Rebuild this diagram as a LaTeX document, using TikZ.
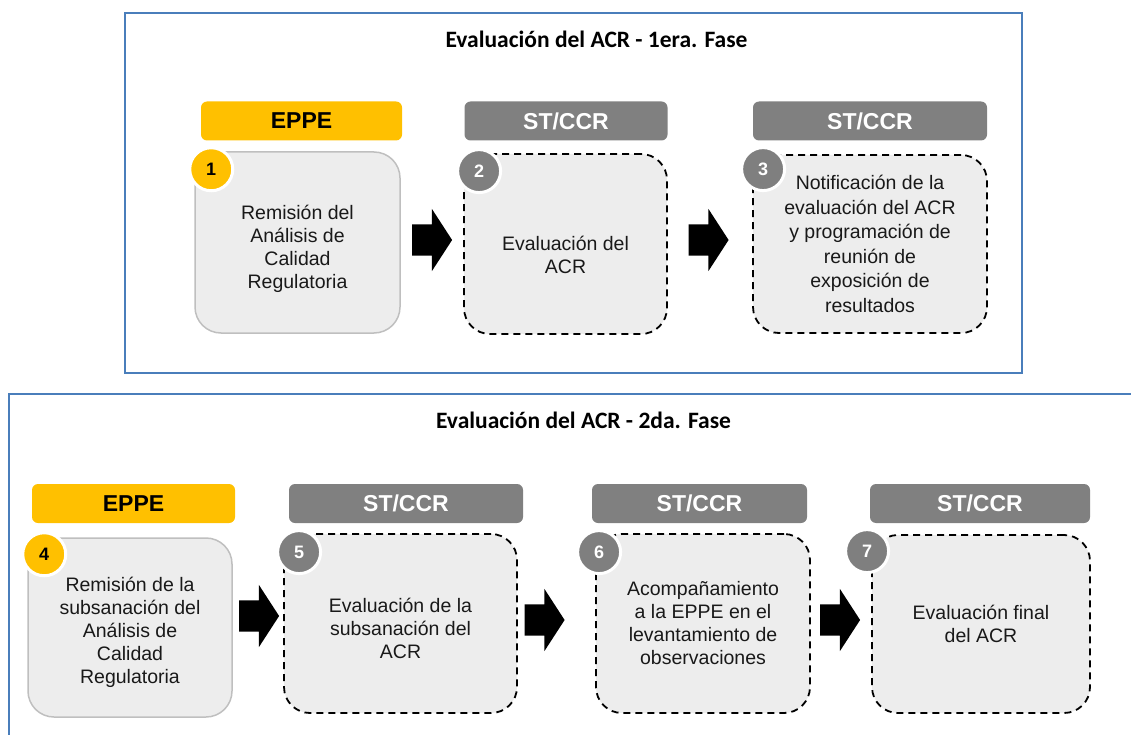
\documentclass[tikz,border=0pt]{standalone}
\usepackage{fontspec}
\setmainfont{Liberation Sans}
\newfontfamily\titlefont{Carlito}
\usetikzlibrary{shapes.arrows,calc}

\definecolor{eppeyellow}{HTML}{FFC000}
\definecolor{stgray}{HTML}{808080}
\definecolor{numgray}{HTML}{7F7F7F}
\definecolor{cardfill}{HTML}{EDEDED}
\definecolor{cardline}{HTML}{BFBFBF}
\definecolor{frameblue}{HTML}{4A7EBB}

% strut that pushes a card's text a little down
\newcommand{\cardpad}[1]{\rule{0pt}{#1}}

\tikzset{
  hdbox/.style={rectangle, rounded corners=6pt, minimum height=39pt, inner sep=0pt,
    font=\bfseries\fontsize{23}{26}\selectfont},
  eppehd/.style={hdbox, fill=eppeyellow, text=black},
  stcrhd/.style={hdbox, fill=stgray, text=white},
  stepcard/.style={rectangle, rounded corners=26pt, fill=cardfill, inner sep=0pt,
    align=center, text=black!90, font=\fontsize{19.5}{23}\selectfont},
  ownstep/.style={stepcard, draw=cardline, line width=1.5pt},
  revstep/.style={stepcard, draw=black, line width=1.8pt, dash pattern=on 7pt off 5pt},
  numdot/.style={circle, minimum size=43pt, inner sep=0pt, draw=white, line width=3pt,
    font=\bfseries\fontsize{18}{18}\selectfont},
  eppenum/.style={numdot, fill=eppeyellow, text=black},
  stnum/.style={numdot, fill=numgray, text=white},
  flowarrow/.style={single arrow, fill=black, inner xsep=0pt, inner ysep=15.5pt,
    minimum height=40pt, single arrow head extend=15.5pt, single arrow tip angle=114},
  phasetitle/.style={anchor=base, font=\titlefont\bfseries\fontsize{23.5}{27}\selectfont},
  phaseframe/.style={draw=frameblue, line width=1.5pt}
}

\begin{document}
\begin{tikzpicture}[x=1pt,y=-1pt]
\useasboundingbox (0,0) rectangle (1131,735);

% Primera fase
\draw[phaseframe] (125,13) rectangle (1022,373);
\node[phasetitle] (titleA) at (596.5,48) {Evaluación del ACR - 1era. Fase};

\node[eppehd, minimum width=201pt] (hdA) at (301.5,121) {EPPE};
\node[stcrhd, minimum width=203pt] (hdB) at (566,121) {ST/CCR};
\node[stcrhd, minimum width=234pt] (hdC) at (870,121) {ST/CCR};

\node[ownstep, minimum width=205pt, minimum height=181pt] (boxA) at (297.5,242.5)
  {\cardpad{26.5pt}Remisión del\\Análisis de\\Calidad\\Regulatoria};
\node[revstep, minimum width=203pt, minimum height=180pt] (boxB) at (565.5,244)
  {\cardpad{37pt}Evaluación del\\ACR};
\node[revstep, minimum width=234pt, minimum height=178pt, font=\fontsize{19.5}{24.6}\selectfont] (boxC) at (870,244)
  {Notificación de la\\evaluación del ACR\\y programación de\\reunión de\\exposición de\\resultados};

\node[eppenum] (numA) at ($(boxA.north west)+(17,18)$) {1};
\node[stnum] (numB) at ($(boxB.north west)+(16,18)$) {2};
\node[stnum] (numC) at ($(boxC.north west)+(11,15)$) {3};

\node[flowarrow] (arA) at (427,240) {};
\node[flowarrow] (arB) at (703.5,240) {};

% Segunda fase
\draw[phaseframe] (1131,394) -- (9,394) -- (9,735);
\node[phasetitle] (titleB) at (583.5,428) {Evaluación del ACR - 2da. Fase};

\node[eppehd, minimum width=203pt] (hdD) at (133.5,503.5) {EPPE};
\node[stcrhd, minimum width=234pt] (hdE) at (406,503.5) {ST/CCR};
\node[stcrhd, minimum width=215pt] (hdF) at (699.5,503.5) {ST/CCR};
\node[stcrhd, minimum width=220pt] (hdG) at (980,503.5) {ST/CCR};

\node[ownstep, minimum width=204pt, minimum height=179pt] (boxD) at (130,627.5)
  {\cardpad{24.5pt}Remisión de la\\subsanación del\\Análisis de\\Calidad\\Regulatoria};
\node[revstep, minimum width=233pt, minimum height=179pt] (boxE) at (400.5,623.5)
  {\cardpad{23.5pt}Evaluación de la\\subsanación del\\ACR};
\node[revstep, minimum width=214pt, minimum height=179pt] (boxF) at (703,623.5)
  {Acompañamiento\\a la EPPE en el\\levantamiento de\\observaciones};
\node[revstep, minimum width=218pt, minimum height=178pt] (boxG) at (981,624)
  {Evaluación final\\del ACR};

\node[eppenum] (numD) at ($(boxD.north west)+(17,17)$) {4};
\node[stnum] (numE) at ($(boxE.north west)+(16,19)$) {5};
\node[stnum] (numF) at ($(boxF.north west)+(4,19)$) {6};
\node[stnum] (numG) at ($(boxG.north west)+(-4,17)$) {7};

\node[flowarrow] (arD) at (254,616) {};
\node[flowarrow] (arE) at (539.5,620) {};
\node[flowarrow] (arF) at (835,620) {};
\end{tikzpicture}
\end{document}
